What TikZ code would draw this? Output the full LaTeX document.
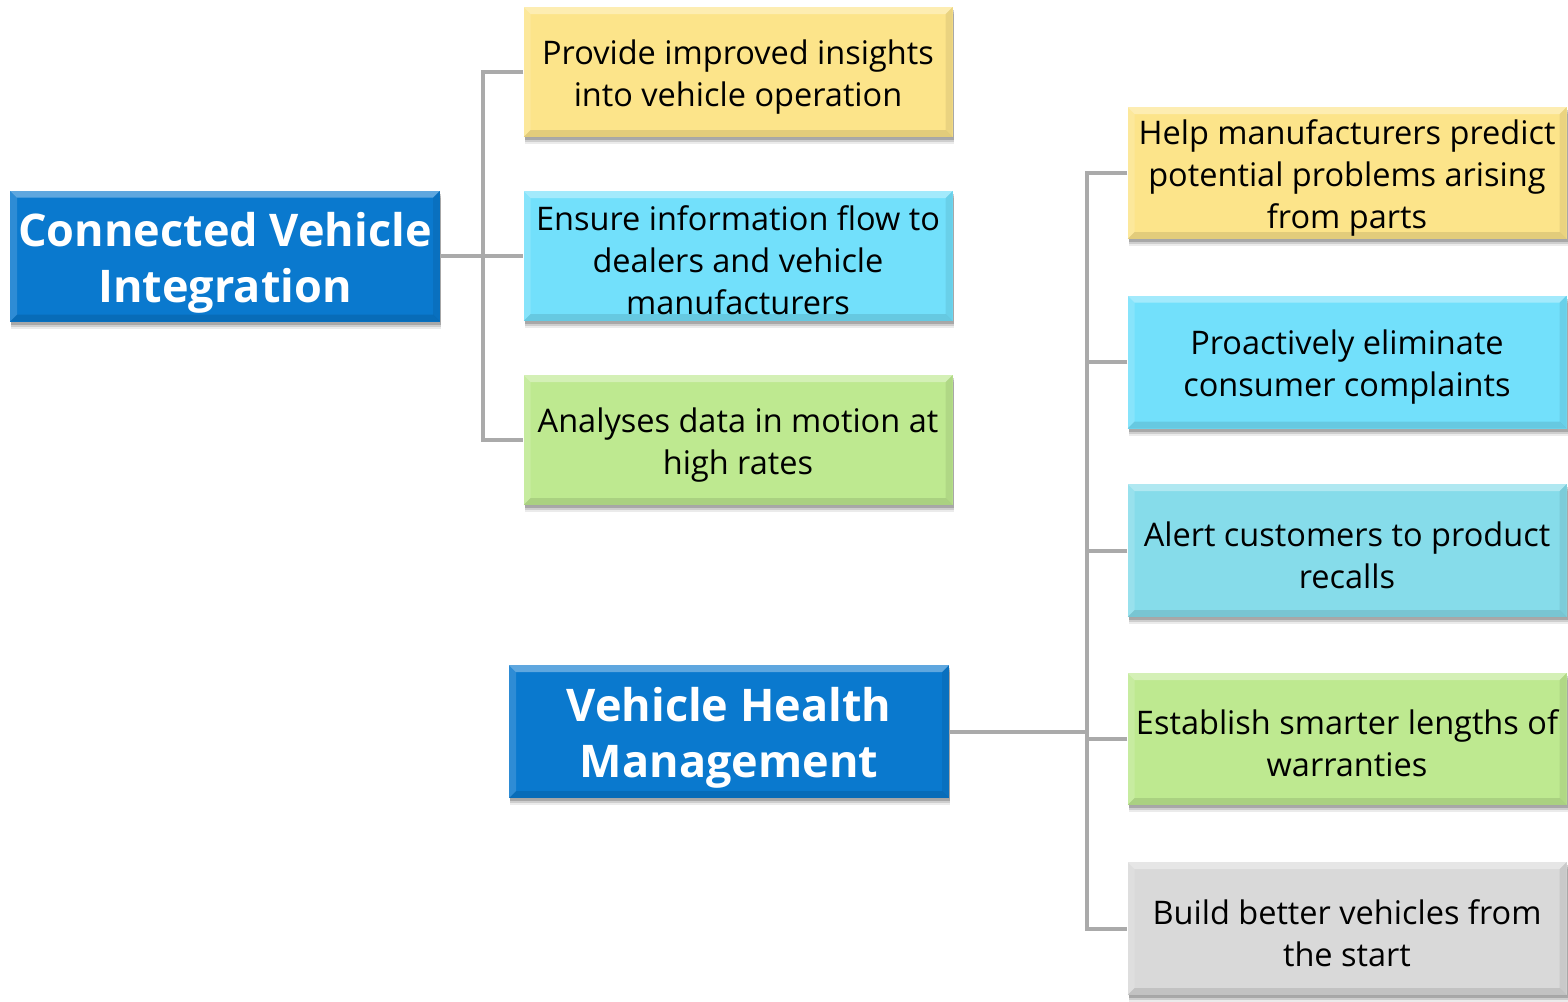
\documentclass[tikz,border=0pt]{standalone}
\usepackage{fontspec}
\setmainfont{Open Sans}
\usetikzlibrary{shadows}
\definecolor{hblue}{RGB}{10,121,206}
\definecolor{cyel}{RGB}{252,228,138}
\definecolor{ccyan}{RGB}{114,224,251}
\definecolor{clcyan}{RGB}{134,220,234}
\definecolor{cgreen}{RGB}{190,233,144}
\definecolor{cgray}{RGB}{217,217,217}
\definecolor{conncol}{RGB}{170,170,170}
\newcommand\itemstrut{\rule{0pt}{34pt}}
\newcommand\headstrut{\rule{0pt}{47pt}}
\tikzset{
  bevel/.style={path picture={
    \fill[white,opacity=0.35] (path picture bounding box.north west) -- (path picture bounding box.north east) -- ([xshift=-7pt,yshift=-7pt]path picture bounding box.north east) -- ([xshift=7pt,yshift=-7pt]path picture bounding box.north west) -- cycle;
    \fill[white,opacity=0.15] (path picture bounding box.north west) -- (path picture bounding box.south west) -- ([xshift=7pt,yshift=7pt]path picture bounding box.south west) -- ([xshift=7pt,yshift=-7pt]path picture bounding box.north west) -- cycle;
    \fill[black,opacity=0.10] (path picture bounding box.south west) -- (path picture bounding box.south east) -- ([xshift=-7pt,yshift=7pt]path picture bounding box.south east) -- ([xshift=7pt,yshift=7pt]path picture bounding box.south west) -- cycle;
    \fill[black,opacity=0.07] (path picture bounding box.north east) -- (path picture bounding box.south east) -- ([xshift=-7pt,yshift=7pt]path picture bounding box.south east) -- ([xshift=-7pt,yshift=-7pt]path picture bounding box.north east) -- cycle;
  }},
  boxbase/.style={rectangle, inner sep=0pt, align=center, bevel,
    drop shadow={shadow xshift=1pt, shadow yshift=-7pt, opacity=0.08, fill=black},
    drop shadow={shadow xshift=1pt, shadow yshift=-5pt, opacity=0.12, fill=black},
    drop shadow={shadow xshift=1pt, shadow yshift=-3pt, opacity=0.18, fill=black}},
  headbox/.style={boxbase, fill=hblue, text=white, font=\bfseries\fontsize{45}{56}\selectfont,
    minimum height=131pt},
  itembox/.style={boxbase, text=black, font=\fontsize{32.5}{42}\selectfont,
    minimum width=429pt, minimum height=130pt},
  ritem/.style={itembox, minimum width=439pt, minimum height=133pt},
  conn/.style={draw=conncol, line width=4pt},
}
\begin{document}
\begin{tikzpicture}[x=1pt,y=-1pt]
\useasboundingbox (0,0) rectangle (1568,1001);
\fill[white] (0,0) rectangle (1568,1001);

\coordinate (lspine) at (483,0);
\coordinate (rspine) at (1087,0);

\node[headbox, minimum width=430pt] (cvi) at (225,256) {\headstrut Connected Vehicle\\Integration};
\node[itembox, fill=cyel] (p1) at (738,72) {\itemstrut Provide improved insights\\into vehicle operation};
\node[itembox, fill=ccyan] (p2) at (738,256) {\itemstrut Ensure information flow to\\dealers and vehicle\\manufacturers};
\node[itembox, fill=cgreen] (p3) at (738,440) {\itemstrut Analyses data in motion at\\high rates};

\node[headbox, minimum width=440pt, minimum height=133pt] (vhm) at (729,731.5) {\headstrut Vehicle Health\\Management};
\node[ritem, fill=cyel, minimum height=132pt] (r1) at (1347,173) {\itemstrut Help manufacturers predict\\potential problems arising\\from parts};
\node[ritem, fill=ccyan] (r2) at (1347,362) {\itemstrut Proactively eliminate\\consumer complaints};
\node[ritem, fill=clcyan] (r3) at (1347,550.5) {\itemstrut Alert customers to product\\recalls};
\node[ritem, fill=cgreen, minimum height=132pt] (r4) at (1347,739) {\itemstrut Establish smarter lengths of\\warranties};
\node[ritem, fill=cgray] (r5) at (1347,928.5) {\itemstrut Build better vehicles from\\the start};

\draw[conn] (cvi.east) -- (p2.west);
\draw[conn] (p1.west) -- (p1.west -| lspine) -- (p3.west -| lspine) -- (p3.west);
\draw[conn] (vhm.east) -- (vhm.east -| rspine);
\draw[conn] (r1.west) -- (r1.west -| rspine) -- (r5.west -| rspine) -- (r5.west);
\draw[conn] (r2.west) -- (r2.west -| rspine);
\draw[conn] (r3.west) -- (r3.west -| rspine);
\draw[conn] (r4.west) -- (r4.west -| rspine);
\end{tikzpicture}
\end{document}
